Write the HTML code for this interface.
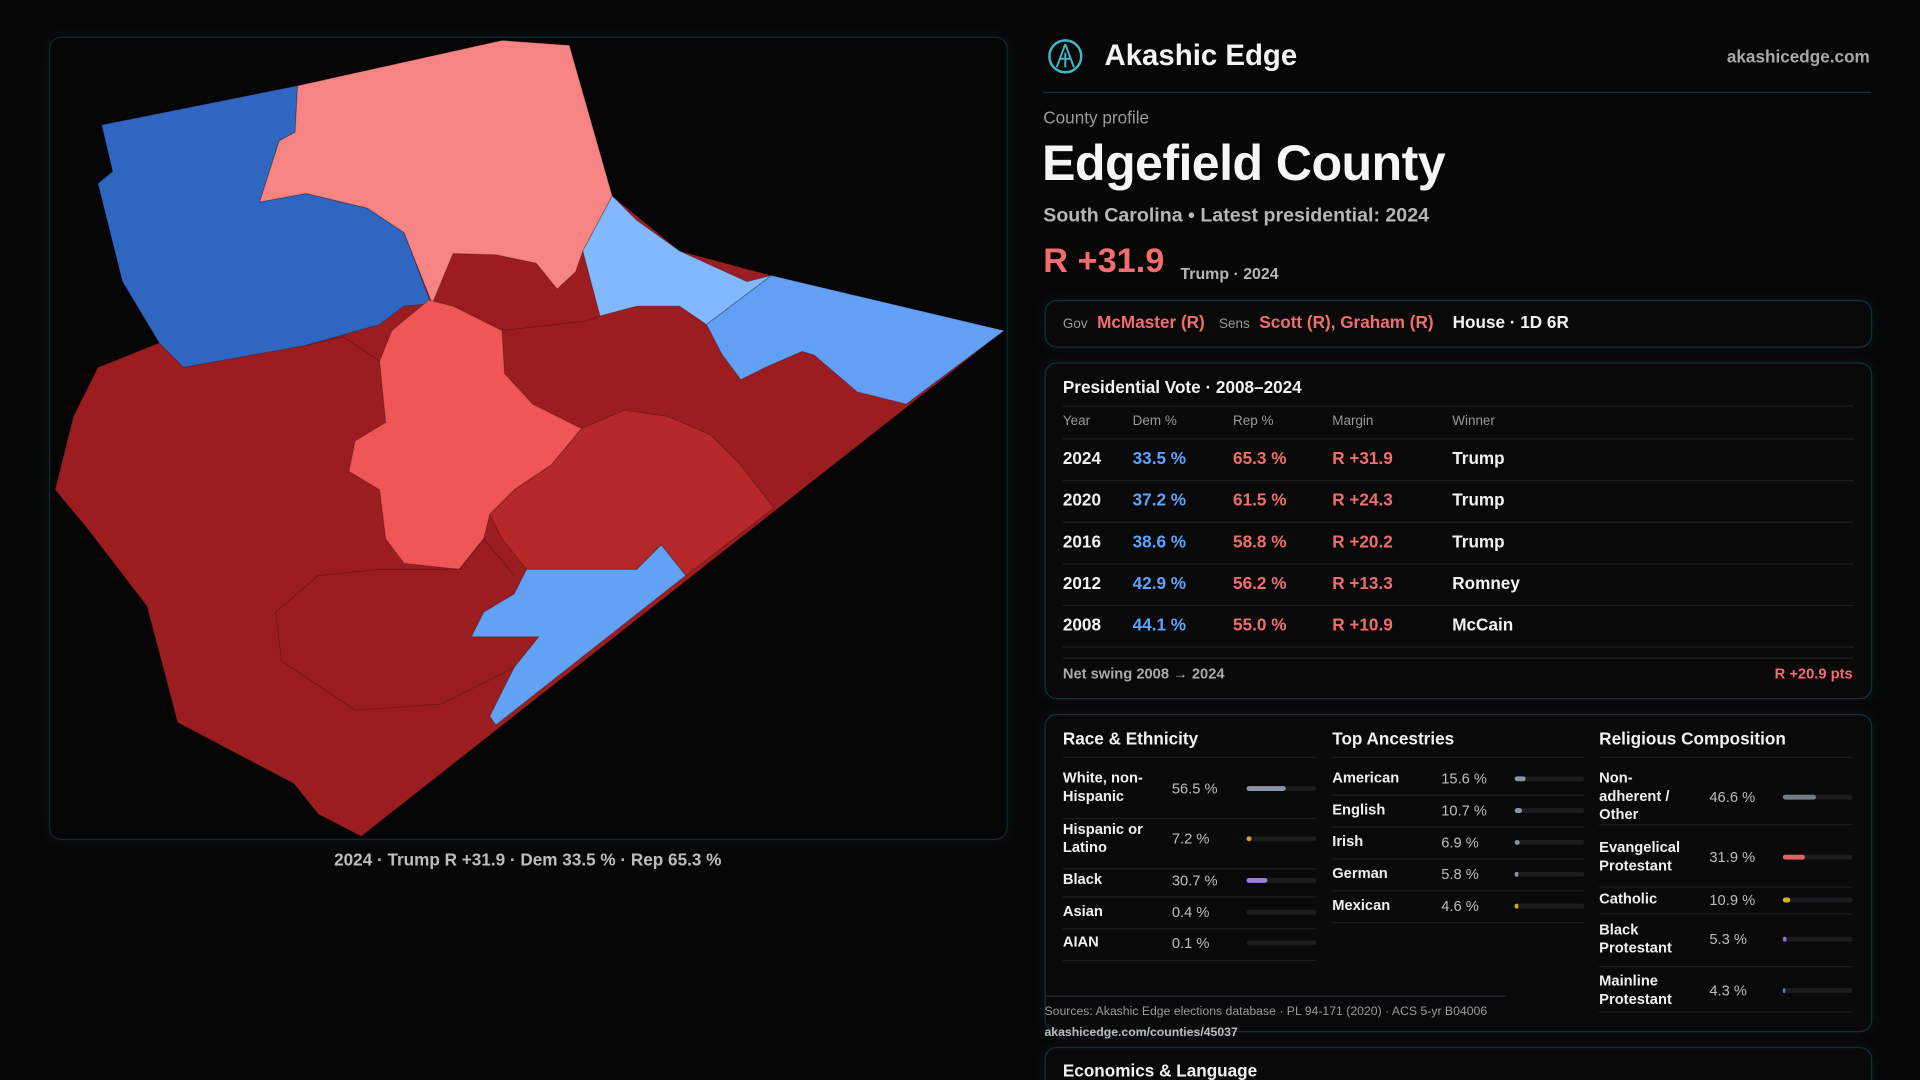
<!DOCTYPE html>
<html><head><meta charset="utf-8">
<style>
html,body{margin:0;padding:0;background:#070707;width:1920px;height:1080px;overflow:hidden}
#w{position:absolute;left:0;top:0;width:1568px;height:882px;overflow:hidden;transform:scale(1.22449);transform-origin:0 0;font-family:"Liberation Sans",sans-serif;color:#f2f2f2}
.a{position:absolute;white-space:nowrap}
.box{position:absolute;border:1px solid #123238;border-radius:10px;background:#090909;box-shadow:0 0 12px rgba(20,60,70,.25)}
.g{color:#9a9a9a}.r{color:#f26d6d}.b{color:#5fa2ff}
.row{position:absolute;left:868px;width:646px;font-size:14px;font-weight:bold;line-height:14px}
.sep{position:absolute;height:1px;background:#1e1e1e}
.t{position:absolute;height:4px;border-radius:2px;background:#1c1c1e}
.f{position:absolute;left:0;top:0;height:4px;border-radius:2px}
.lb{position:absolute;font-size:12px;font-weight:bold;line-height:15px;color:#f0f0f0}
.v{position:absolute;font-size:12px;color:#bdbdbd;line-height:14px}
</style></head><body><div id="w">
<div class="box" style="left:40px;top:30px;width:781px;height:654px;background:#050505;border-color:#0f2a2e"></div>
<svg style="position:absolute;left:0;top:0" width="1568" height="882" viewBox="0 0 1568 882">
<g stroke="rgba(0,0,0,0.25)" stroke-width="0.8" stroke-linejoin="round">
<polygon fill="#9b1d20" points="83,102 243,70 410,33 465,37 500,160 555,205 630,225 820,270 295,683 260,665 240,640 145,590 120,495 70,430 45,400 60,340 80,300 130,280 100,230 80,150 92,140"/>
<polygon fill="#2e66c2" points="83,102 243,70 241,108 228,115 212,165 250,158 300,170 330,190 352,248 330,250 310,265 250,282 150,300 130,280 100,230 80,150 92,140"/>
<polygon fill="#f58482" points="243,70 410,33 465,37 500,160 476,205 470,222 455,236 438,215 405,208 370,207 353,248 330,190 300,170 250,158 212,165 228,115 241,108"/>
<polygon fill="#82b8fc" points="500,160 520,180 555,205 610,230 630,225 577,265 555,250 520,250 490,258 476,205"/>
<polygon fill="#62a0f6" points="630,225 820,270 740,330 700,320 665,290 655,287 625,300 605,310 590,290 577,265"/>
<polygon fill="#f05656" points="350,245 370,250 410,270 412,305 435,330 475,350 450,380 420,400 400,420 395,440 375,465 330,460 315,440 310,400 285,385 290,360 315,345 310,295 320,270"/>
<polygon fill="#b7282b" points="475,350 510,335 545,340 580,355 605,380 632,415 560,470 540,445 520,465 430,465 410,440 400,420 420,400 450,380"/>
<polygon fill="#62a2f4" points="430,465 520,465 540,445 560,470 405,592 400,585 420,545 440,520 385,520 395,500 420,485"/>
<polyline fill="none" points="225,500 260,470 310,465 375,465 395,440 420,470" />
<polyline fill="none" points="225,500 230,540 260,560 290,580 360,575 420,545" />
<polyline fill="none" points="310,295 280,275 250,282" />
<polyline fill="none" points="410,270 480,262 490,258" />
</g></svg>
<div class="a" style="left:0;width:862px;text-align:center;top:694px;font-size:14px;color:#bdbdbd;font-weight:bold">2024 · Trump R +31.9 · Dem 33.5 % · Rep 65.3 %</div>

<svg style="position:absolute;left:855px;top:31px" width="30" height="30" viewBox="0 0 30 30"><circle cx="15" cy="15" r="13" fill="none" stroke="#3fb8c8" stroke-width="2"/><path d="M15 5 L8 24 M15 5 L22 24 M10 17 L20 17 M15 12 L15 24" stroke="#3fb8c8" stroke-width="1.6" fill="none"/></svg>
<div class="a" style="left:902px;top:32px;font-size:24px;font-weight:bold;color:#f4f4f4">Akashic Edge</div>
<div class="a" style="right:41px;top:38px;font-size:14px;font-weight:bold;color:#a8a8a8">akashicedge.com</div>
<div class="sep" style="left:852px;top:75px;width:676px;background:#173238"></div>
<div class="a" style="left:852px;top:88px;font-size:14px;color:#9a9a9a">County profile</div>
<div class="a" style="left:851px;top:110px;font-size:41px;font-weight:bold;color:#f6f6f6;letter-spacing:-0.5px">Edgefield County</div>
<div class="a" style="left:852px;top:168px;font-size:16px;font-weight:bold;color:#b6b6b6">South Carolina • Latest presidential: 2024</div>
<div class="a r" style="left:852px;top:197px;font-size:28px;font-weight:bold">R +31.9</div>
<div class="a" style="left:964px;top:216px;font-size:13px;font-weight:bold;color:#b6b6b6">Trump · 2024</div>

<div class="box" style="left:853px;top:245px;width:674px;height:37px"></div>
<div class="a" style="left:868px;top:255px;font-size:14px;font-weight:bold"><span class="g" style="font-size:11px;font-weight:normal">Gov</span>&nbsp; <span class="r">McMaster (R)</span>&nbsp;&nbsp; <span class="g" style="font-size:11px;font-weight:normal">Sens</span>&nbsp; <span class="r">Scott (R), Graham (R)</span>&nbsp;&nbsp;&nbsp; House · 1D 6R</div>

<div class="box" style="left:853px;top:296px;width:674px;height:273px"></div>
<div class="a" style="left:868px;top:308px;font-size:14px;font-weight:bold">Presidential Vote · 2008–2024</div>
<div class="sep" style="left:868px;top:331px;width:646px"></div>
<div class="row" style="top:337px;font-size:11px;font-weight:normal;color:#999"><span class="a" style="left:0">Year</span><span class="a" style="left:57px">Dem %</span><span class="a" style="left:139px">Rep %</span><span class="a" style="left:220px">Margin</span><span class="a" style="left:318px">Winner</span></div>
<div class="sep" style="left:868px;top:358px;width:646px"></div>
<div class="row" style="top:367px"><span class="a" style="left:0">2024</span><span class="a b" style="left:57px">33.5 %</span><span class="a r" style="left:139px">65.3 %</span><span class="a r" style="left:220px">R +31.9</span><span class="a" style="left:318px">Trump</span></div>
<div class="sep" style="left:868px;top:392px;width:646px"></div>
<div class="row" style="top:401px"><span class="a" style="left:0">2020</span><span class="a b" style="left:57px">37.2 %</span><span class="a r" style="left:139px">61.5 %</span><span class="a r" style="left:220px">R +24.3</span><span class="a" style="left:318px">Trump</span></div>
<div class="sep" style="left:868px;top:426px;width:646px"></div>
<div class="row" style="top:435px"><span class="a" style="left:0">2016</span><span class="a b" style="left:57px">38.6 %</span><span class="a r" style="left:139px">58.8 %</span><span class="a r" style="left:220px">R +20.2</span><span class="a" style="left:318px">Trump</span></div>
<div class="sep" style="left:868px;top:460px;width:646px"></div>
<div class="row" style="top:469px"><span class="a" style="left:0">2012</span><span class="a b" style="left:57px">42.9 %</span><span class="a r" style="left:139px">56.2 %</span><span class="a r" style="left:220px">R +13.3</span><span class="a" style="left:318px">Romney</span></div>
<div class="sep" style="left:868px;top:494px;width:646px"></div>
<div class="row" style="top:503px"><span class="a" style="left:0">2008</span><span class="a b" style="left:57px">44.1 %</span><span class="a r" style="left:139px">55.0 %</span><span class="a r" style="left:220px">R +10.9</span><span class="a" style="left:318px">McCain</span></div>
<div class="sep" style="left:868px;top:528px;width:646px"></div>
<div class="sep" style="left:868px;top:537px;width:646px"></div>
<div class="a" style="left:868px;top:543px;font-size:12px;color:#aaa;font-weight:bold">Net swing 2008 → 2024</div>
<div class="a r" style="right:55px;top:543px;font-size:12px;font-weight:bold">R +20.9 pts</div>

<div class="box" style="left:853px;top:583px;width:674px;height:258px"></div>
<div class="a" style="left:868px;top:595px;font-size:14px;font-weight:bold">Race &amp; Ethnicity</div>
<div class="a" style="left:1088px;top:595px;font-size:14px;font-weight:bold">Top Ancestries</div>
<div class="a" style="left:1306px;top:595px;font-size:14px;font-weight:bold">Religious Composition</div>
<div class="sep" style="left:868px;top:618px;width:207px"></div>
<div class="sep" style="left:1088px;top:618px;width:206px"></div>
<div class="sep" style="left:1306px;top:618px;width:207px"></div>

<div class="lb" style="left:868px;top:628px">White, non-<br>Hispanic</div><div class="v" style="left:957px;top:637px">56.5 %</div><div class="t" style="left:1018px;top:642px;width:57px"><div class="f" style="width:32px;background:#8c94a8"></div></div>
<div class="sep" style="left:868px;top:668px;width:207px"></div>
<div class="lb" style="left:868px;top:670px">Hispanic or<br>Latino</div><div class="v" style="left:957px;top:678px">7.2 %</div><div class="t" style="left:1018px;top:683px;width:57px"><div class="f" style="width:4px;background:#e0a020"></div></div>
<div class="sep" style="left:868px;top:709px;width:207px"></div>
<div class="lb" style="left:868px;top:711px">Black</div><div class="v" style="left:957px;top:712px">30.7 %</div><div class="t" style="left:1018px;top:717px;width:57px"><div class="f" style="width:17px;background:#9b7be0"></div></div>
<div class="sep" style="left:868px;top:732px;width:207px"></div>
<div class="lb" style="left:868px;top:737px">Asian</div><div class="v" style="left:957px;top:738px">0.4 %</div><div class="t" style="left:1018px;top:743px;width:57px"></div>
<div class="sep" style="left:868px;top:758px;width:207px"></div>
<div class="lb" style="left:868px;top:762px">AIAN</div><div class="v" style="left:957px;top:763px">0.1 %</div><div class="t" style="left:1018px;top:768px;width:57px"></div>
<div class="sep" style="left:868px;top:784px;width:207px"></div>

<div class="lb" style="left:1088px;top:628px">American</div><div class="v" style="left:1177px;top:629px">15.6 %</div><div class="t" style="left:1237px;top:634px;width:57px"><div class="f" style="width:9px;background:#8c94a8"></div></div>
<div class="sep" style="left:1088px;top:649px;width:206px"></div>
<div class="lb" style="left:1088px;top:654px">English</div><div class="v" style="left:1177px;top:655px">10.7 %</div><div class="t" style="left:1237px;top:660px;width:57px"><div class="f" style="width:6px;background:#8c94a8"></div></div>
<div class="sep" style="left:1088px;top:675px;width:206px"></div>
<div class="lb" style="left:1088px;top:680px">Irish</div><div class="v" style="left:1177px;top:681px">6.9 %</div><div class="t" style="left:1237px;top:686px;width:57px"><div class="f" style="width:4px;background:#8c94a8"></div></div>
<div class="sep" style="left:1088px;top:701px;width:206px"></div>
<div class="lb" style="left:1088px;top:706px">German</div><div class="v" style="left:1177px;top:707px">5.8 %</div><div class="t" style="left:1237px;top:712px;width:57px"><div class="f" style="width:3px;background:#8c94a8"></div></div>
<div class="sep" style="left:1088px;top:727px;width:206px"></div>
<div class="lb" style="left:1088px;top:732px">Mexican</div><div class="v" style="left:1177px;top:733px">4.6 %</div><div class="t" style="left:1237px;top:738px;width:57px"><div class="f" style="width:3px;background:#e0a020"></div></div>
<div class="sep" style="left:1088px;top:753px;width:206px"></div>

<div class="lb" style="left:1306px;top:628px">Non-<br>adherent /<br>Other</div><div class="v" style="left:1396px;top:644px">46.6 %</div><div class="t" style="left:1456px;top:649px;width:57px"><div class="f" style="width:27px;background:#777b86"></div></div>
<div class="sep" style="left:1306px;top:673px;width:207px"></div>
<div class="lb" style="left:1306px;top:685px">Evangelical<br>Protestant</div><div class="v" style="left:1396px;top:693px">31.9 %</div><div class="t" style="left:1456px;top:698px;width:57px"><div class="f" style="width:18px;background:#e06262"></div></div>
<div class="sep" style="left:1306px;top:724px;width:207px"></div>
<div class="lb" style="left:1306px;top:727px">Catholic</div><div class="v" style="left:1396px;top:728px">10.9 %</div><div class="t" style="left:1456px;top:733px;width:57px"><div class="f" style="width:6px;background:#e0b020"></div></div>
<div class="sep" style="left:1306px;top:746px;width:207px"></div>
<div class="lb" style="left:1306px;top:752px">Black<br>Protestant</div><div class="v" style="left:1396px;top:760px">5.3 %</div><div class="t" style="left:1456px;top:765px;width:57px"><div class="f" style="width:3px;background:#9070e0"></div></div>
<div class="sep" style="left:1306px;top:789px;width:207px"></div>
<div class="lb" style="left:1306px;top:794px">Mainline<br>Protestant</div><div class="v" style="left:1396px;top:802px">4.3 %</div><div class="t" style="left:1456px;top:807px;width:57px"><div class="f" style="width:2px;background:#4a80e0"></div></div>
<div class="sep" style="left:1306px;top:826px;width:207px"></div>

<div class="sep" style="left:853px;top:813px;width:377px;background:#173238"></div>
<div class="a" style="left:853px;top:821px;font-size:10px;color:#9a9a9a">Sources: Akashic Edge elections database · PL 94-171 (2020) · ACS 5-yr B04006</div>
<div class="a" style="left:853px;top:838px;font-size:10px;color:#bdbdbd;font-weight:bold">akashicedge.com/counties/45037</div>

<div class="box" style="left:853px;top:855px;width:674px;height:40px"></div>
<div class="a" style="left:868px;top:866px;font-size:14px;font-weight:bold">Economics &amp; Language</div>
</div></body></html>
